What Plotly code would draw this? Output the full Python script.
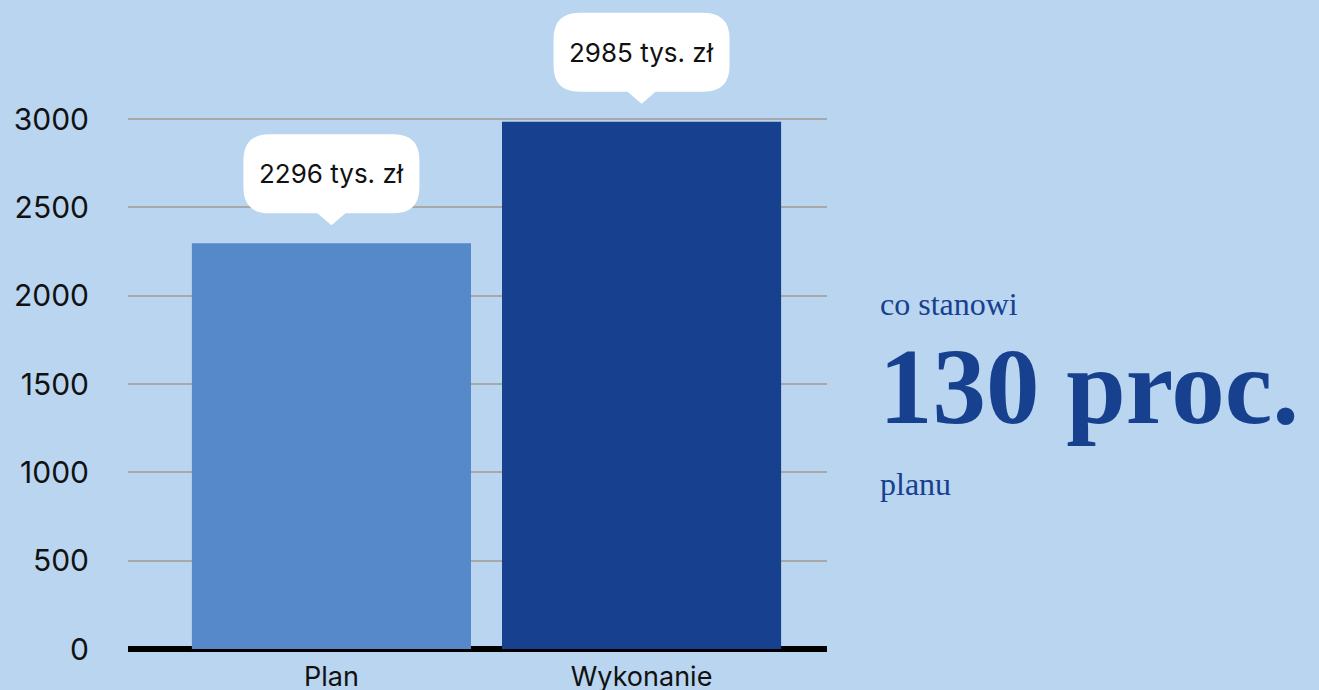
import plotly.graph_objects as go

categories = ["Plan", "Wykonanie"]
values = [2296, 2985]
bar_colors = ["#5589C9", "#17408F"]
y_ticks = [0, 500, 1000, 1500, 2000, 2500, 3000]
side_small_top = "co stanowi"
side_big = "130 proc."
side_small_bottom = "planu"

BG = "#BAD5F0"
DARK_BLUE = "#17408F"

fig = go.Figure()

fig.add_trace(go.Bar(
    x=categories,
    y=values,
    marker=dict(color=bar_colors, line=dict(width=0)),
    hoverinfo="skip",
))

# callout bubble (pixel offsets relative to the bar top)
hw, yb, yt, r, tip, tw = 88, 30, 109, 26, 18, 14
bubble = (
    f"M {-hw + r},{yb} L {-tw},{yb} L 0,{tip} L {tw},{yb} L {hw - r},{yb} "
    f"Q {hw},{yb} {hw},{yb + r} L {hw},{yt - r} Q {hw},{yt} {hw - r},{yt} "
    f"L {-hw + r},{yt} Q {-hw},{yt} {-hw},{yt - r} L {-hw},{yb + r} "
    f"Q {-hw},{yb} {-hw + r},{yb} Z"
)

for cat, val in zip(categories, values):
    fig.add_shape(
        type="path", xref="x", yref="y",
        xsizemode="pixel", ysizemode="pixel",
        xanchor=cat, yanchor=val, path=bubble,
        fillcolor="white", line=dict(width=0), layer="above",
    )
    fig.add_annotation(
        x=cat, y=val, xref="x", yref="y",
        text=f"{val} tys. zł", showarrow=False,
        yanchor="middle", yshift=(yb + yt) / 2,
        font=dict(family="Inter", size=26, color="#111111"),
    )

# side text
fig.add_annotation(xref="paper", yref="paper", x=1.0735, y=0.532,
                   xanchor="left", yanchor="middle", showarrow=False,
                   text=side_small_top,
                   font=dict(family="Liberation Serif", size=32, color=DARK_BLUE))
fig.add_annotation(xref="paper", yref="paper", x=1.072, y=0.404,
                   xanchor="left", yanchor="middle", showarrow=False,
                   text=f"<b>{side_big}</b>",
                   font=dict(family="Liberation Serif", size=107, color=DARK_BLUE))
fig.add_annotation(xref="paper", yref="paper", x=1.0735, y=0.254,
                   xanchor="left", yanchor="middle", showarrow=False,
                   text=side_small_bottom,
                   font=dict(family="Liberation Serif", size=32, color=DARK_BLUE))

fig.update_layout(
    width=1319, height=690,
    margin=dict(l=128, r=492, t=0, b=41, pad=0),
    paper_bgcolor=BG, plot_bgcolor=BG,
    bargap=0.1, showlegend=False,
    font=dict(family="Inter", color="#111111"),
    xaxis=dict(
        range=[-0.656, 1.598], automargin=False,
        showgrid=False, showline=False, ticks="",
        tickfont=dict(size=27, family="Inter", color="#111111"),
        ticklabelstandoff=9,
    ),
    yaxis=dict(
        range=[0, 3000 * 649 / 530], tickvals=y_ticks, automargin=False,
        showgrid=True, gridcolor="#A8A8A8", gridwidth=1.5,
        zeroline=True, zerolinecolor="#000000", zerolinewidth=6,
        showline=False, ticks="",
        tickfont=dict(size=30, family="Inter", color="#111111"),
        ticklabelstandoff=38,
    ),
)

fig.write_html("out.html", config={"displayModeBar": False},
               post_script="document.body.style.margin='0';")
